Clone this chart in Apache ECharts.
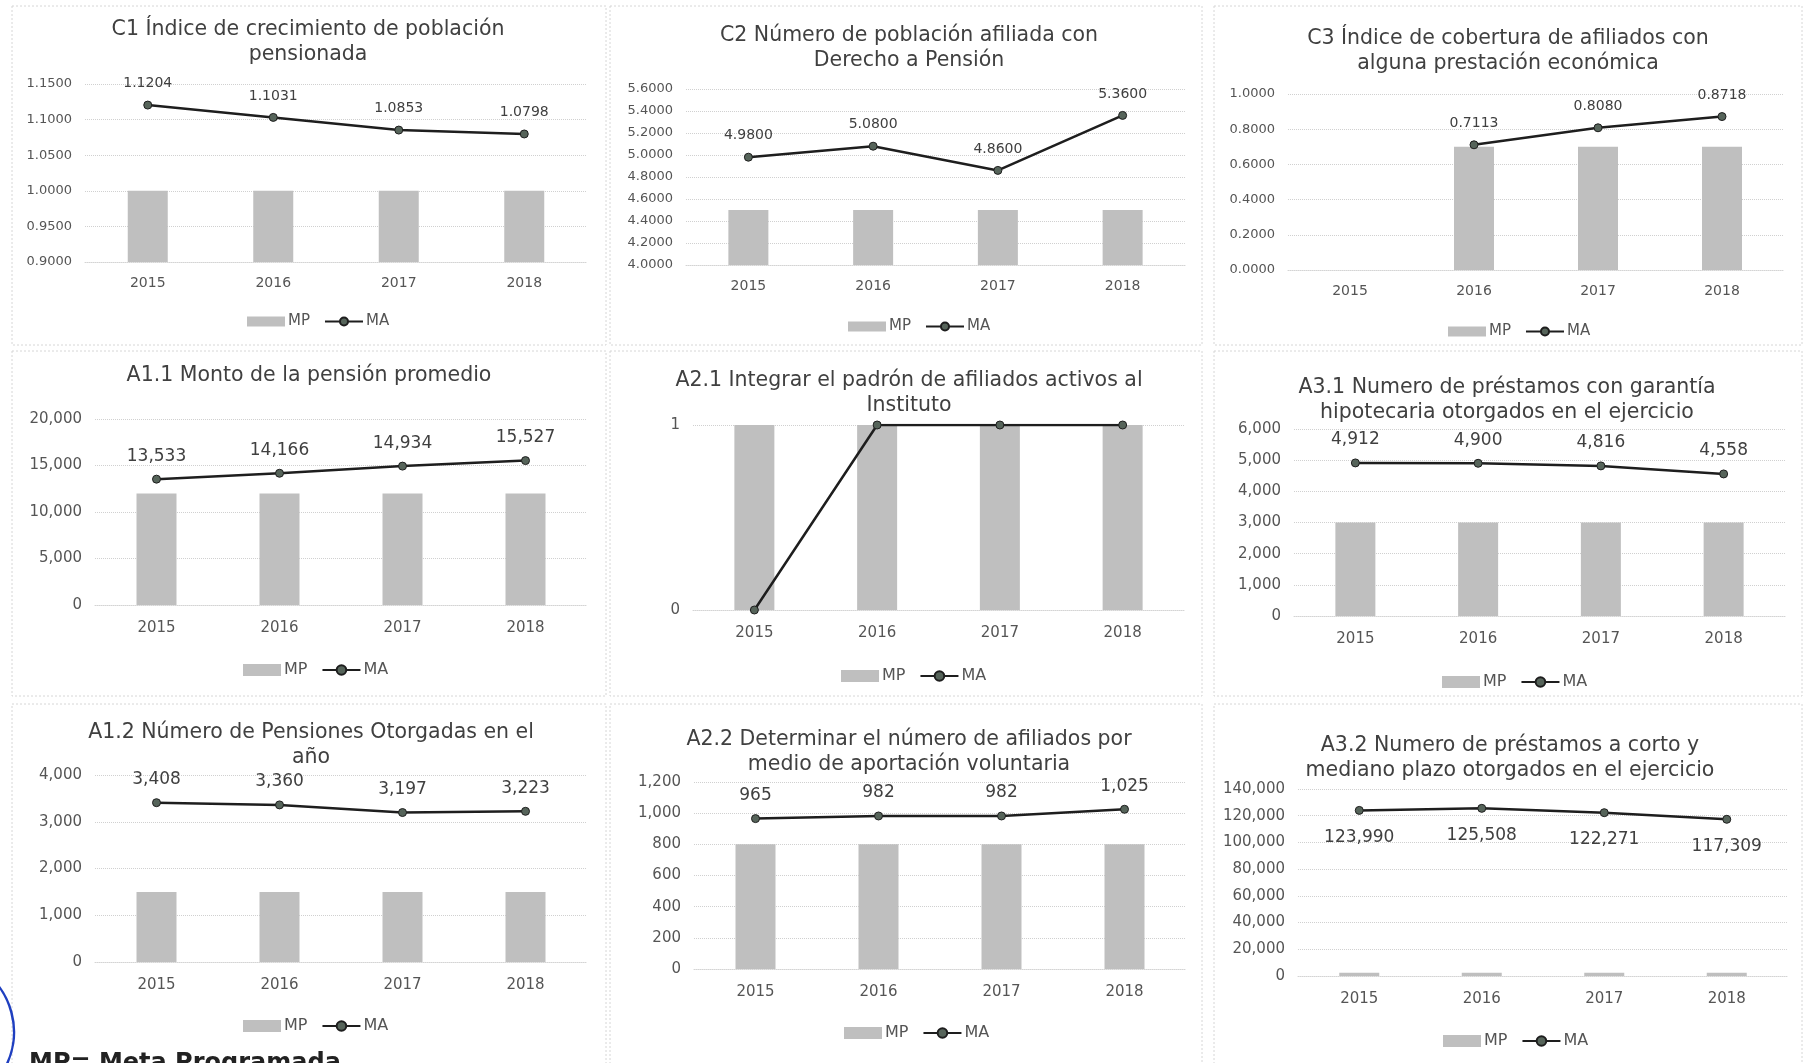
<!DOCTYPE html>
<html>
<head>
<meta charset="utf-8">
<script src="https://cdn.jsdelivr.net/npm/echarts@6/dist/echarts.min.js"></script>
<style>
html,body{margin:0;padding:0;background:#fff;}
#chart{width:1804px;height:1063px;}
</style>
</head>
<body>
<div id="chart"></div>
<script>
// ---- data ----
const years = ['2015', '2016', '2017', '2018'];

const c1MP = [1.0, 1.0, 1.0, 1.0];
const c1MA = [1.1204, 1.1031, 1.0853, 1.0798];

const c2MP = [4.5, 4.5, 4.5, 4.5];
const c2MA = [4.98, 5.08, 4.86, 5.36];

const c3MP = [null, 0.70, 0.70, 0.70];
const c3MA = [null, 0.7113, 0.8080, 0.8718];

const a11MP = [12000, 12000, 12000, 12000];
const a11MA = [13533, 14166, 14934, 15527];

const a21MP = [1, 1, 1, 1];
const a21MA = [0, 1, 1, 1];

const a31MP = [3000, 3000, 3000, 3000];
const a31MA = [4912, 4900, 4816, 4558];

const a12MP = [1500, 1500, 1500, 1500];
const a12MA = [3408, 3360, 3197, 3223];

const a22MP = [800, 800, 800, 800];
const a22MA = [965, 982, 982, 1025];

const a32MP = [2500, 2500, 2500, 2500];
const a32MA = [123990, 125508, 122271, 117309];

const titles = [
  'C1 Índice de crecimiento de población\npensionada',
  'C2 Número de población afiliada con\nDerecho a Pensión',
  'C3 Índice de cobertura de afiliados con\nalguna prestación económica',
  'A1.1 Monto de la pensión promedio',
  'A2.1 Integrar el padrón de afiliados activos al\nInstituto',
  'A3.1 Numero de préstamos con garantía\nhipotecaria otorgados en el ejercicio',
  'A1.2 Número de Pensiones Otorgadas en el\naño',
  'A2.2 Determinar el número de afiliados por\nmedio de aportación voluntaria',
  'A3.2 Numero de préstamos a corto y\nmediano plazo otorgados en el ejercicio'
];

// axis scales per panel
const axisMin = [0.9, 4.0, 0, 0, 0, 0, 0, 0, 0];
const axisMax = [1.15, 5.6, 1.0, 20000, 1, 6000, 4000, 1200, 140000];
const axisInterval = [0.05, 0.2, 0.2, 5000, 1, 1000, 1000, 200, 20000];

const mpData = [c1MP, c2MP, c3MP, a11MP, a21MP, a31MP, a12MP, a22MP, a32MP];
const maData = [c1MA, c2MA, c3MA, a11MA, a21MA, a31MA, a12MA, a22MA, a32MA];

// ---- layout (positions / styles) ----
const layout = [
  {grid:{left:85, top:84, width:502, height:178}, tx:308, ty:42, leg:[242,309], dec:4, row:1, lab:'top'},
  {grid:{left:686, top:89, width:499, height:176}, tx:909, ty:48, leg:[843,314], dec:4, row:1, lab:'top'},
  {grid:{left:1288, top:94, width:496, height:176}, tx:1508, ty:51, leg:[1443,319], dec:4, row:1, lab:'top'},
  {grid:{left:95, top:419, width:492, height:186}, tx:309, ty:376, leg:[238,657], dec:0, row:2, lab:'top'},
  {grid:{left:693, top:425, width:491, height:185}, tx:909, ty:393, leg:[836,663], dec:0, row:2, lab:'none'},
  {grid:{left:1294, top:429, width:491, height:187}, tx:1507, ty:400, leg:[1437,669], dec:0, row:2, lab:'top'},
  {grid:{left:95, top:775, width:492, height:187}, tx:311, ty:745, leg:[238,1013], dec:0, row:3, lab:'top'},
  {grid:{left:694, top:782, width:492, height:187}, tx:909, ty:752, leg:[839,1020], dec:0, row:3, lab:'top'},
  {grid:{left:1298, top:789, width:490, height:187}, tx:1510, ty:758, leg:[1438,1028], dec:0, row:3, lab:'bottom'}
];

const FONT = '"DejaVu Sans", sans-serif';
const TXT = '#404040';
const AX = '#555555';

function fmt(v, dec) {
  if (v === null || v === undefined) return '';
  if (dec > 0) return Number(v).toFixed(dec);
  return Number(v).toLocaleString('en-US');
}

const grids = [], xAxes = [], yAxes = [], series = [], legends = [], graphics = [];

layout.forEach((L, i) => {
  const small = L.row === 1;
  grids.push(Object.assign({containLabel: false}, L.grid));
  xAxes.push({
    type: 'category', gridIndex: i, data: years,
    axisTick: {show: false},
    axisLine: {show: true, lineStyle: {color: '#d4d4d4', type: 'dotted'}},
    axisLabel: {color: AX, fontFamily: FONT, fontSize: small ? 14 : 15, margin: small ? 14 : 16}
  });
  yAxes.push({
    type: 'value', gridIndex: i,
    min: axisMin[i], max: axisMax[i], interval: axisInterval[i],
    axisLine: {show: false}, axisTick: {show: false},
    splitLine: {show: true, lineStyle: {color: '#d0d0d0', type: 'dotted', width: 1}},
    axisLabel: {
      color: AX, fontFamily: FONT, fontSize: small ? 13 : 15, margin: 13,
      formatter: v => fmt(v, L.dec)
    }
  });
  series.push({
    name: 'MP', type: 'bar', xAxisIndex: i, yAxisIndex: i,
    data: mpData[i], barWidth: 40,
    itemStyle: {color: '#bfbfbf'},
    z: 2
  });
  series.push({
    name: 'MA', type: 'line', xAxisIndex: i, yAxisIndex: i,
    data: maData[i],
    symbol: 'circle', symbolSize: 8,
    lineStyle: {color: '#1e1e1e', width: 2.5},
    itemStyle: {color: '#56645a', borderColor: '#1e1e1e', borderWidth: 1},
    label: {
      show: L.lab !== 'none',
      position: L.lab === 'bottom' ? 'bottom' : 'top',
      distance: L.lab === 'bottom' ? 14 : 10,
      color: TXT, fontFamily: FONT, fontSize: small ? 14 : 17,
      formatter: p => fmt(p.value, L.dec)
    },
    z: 3
  });
  legends.push({
    left: L.leg[0], top: L.leg[1],
    data: [{name: 'MP', icon: 'rect'}, {name: 'MA'}],
    itemWidth: 38, itemHeight: small ? 10 : 12, itemGap: 14,
    textStyle: {color: AX, fontFamily: FONT, fontSize: small ? 15 : 16, padding: [0, 0, 0, -2]},
    selectedMode: false
  });
  graphics.push({
    type: 'text', x: L.tx, y: L.ty,
    style: {
      text: titles[i], fill: TXT, font: '20.5px ' + FONT,
      textAlign: 'center', textVerticalAlign: 'middle', lineHeight: 25
    }
  });
});

// panel borders
const cols = [[12, 606], [610, 1202], [1214, 1802]];
const rows = [[6, 345], [351, 696], [704, 1070]];
rows.forEach(r => cols.forEach(c => {
  graphics.push({
    type: 'rect', shape: {x: c[0], y: r[0], width: c[1] - c[0], height: r[1] - r[0]},
    style: {fill: 'none', stroke: '#d6d6d6', lineWidth: 1, lineDash: [2, 2]}, z: -1
  });
}));

// footnote (partially cut off at the page bottom)
graphics.push({
  type: 'text', x: 29, y: 1052,
  style: {text: 'MP= Meta Programada', fill: '#222', font: 'bold 24px ' + FONT, textVerticalAlign: 'top'}
});
// blue pen mark at left
graphics.push({
  type: 'arc', shape: {cx: -62, cy: 1032, r: 76, startAngle: -Math.PI / 3, endAngle: Math.PI / 3},
  style: {stroke: '#1f3fc0', lineWidth: 2.5, fill: 'none'}
});

const chart = echarts.init(document.getElementById('chart'), null, {renderer: 'canvas'});
chart.setOption({
  backgroundColor: '#ffffff',
  animation: false,
  grid: grids, xAxis: xAxes, yAxis: yAxes, series: series, legend: legends,
  graphic: graphics
});
</script>
</body>
</html>
